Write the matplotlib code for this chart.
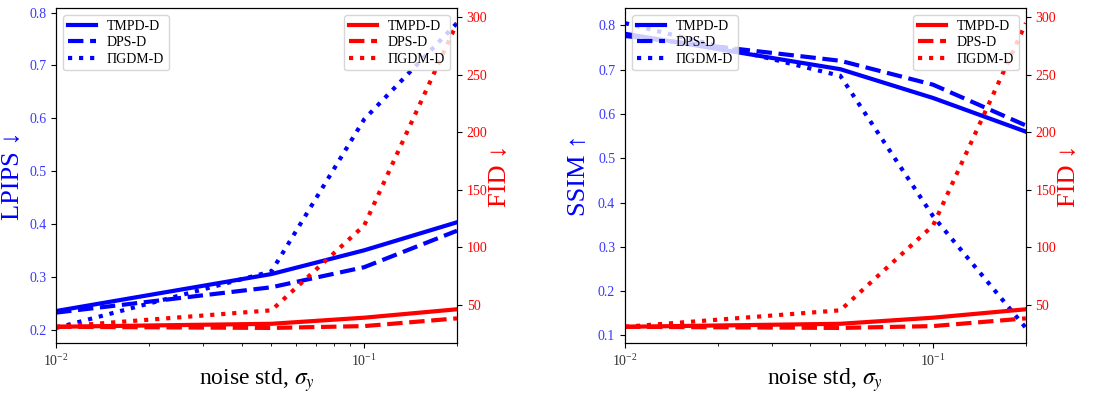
import matplotlib
matplotlib.use('Agg')
import matplotlib.pyplot as plt

# niveles de ruido
sigmas = [0.01, 0.05, 0.1, 0.2]

# LPIPS (panel izquierdo)
lpips_tmpd = [0.235, 0.305, 0.350, 0.403]
lpips_dps = [0.232, 0.280, 0.318, 0.387]
lpips_pigdm = [0.203, 0.310, 0.598, 0.780]

# SSIM (panel derecho)
ssim_tmpd = [0.781, 0.701, 0.636, 0.560]
ssim_dps = [0.776, 0.720, 0.666, 0.574]
ssim_pigdm = [0.805, 0.686, 0.369, 0.117]

# FID (ambos paneles)
fid_tmpd = [31.0, 33.6, 38.9, 46.2]
fid_dps = [31.0, 30.0, 31.6, 38.3]
fid_pigdm = [31.0, 45.3, 119.0, 294.7]

nombres = ['TMPD-D', 'DPS-D', '\u03a0GDM-D']
estilos = ['-', '--', ':']

plt.rcParams['font.family'] = ['Liberation Serif', 'DejaVu Serif']
plt.rcParams['mathtext.fontset'] = 'stix'

fig = plt.figure(figsize=(11.1, 3.94), dpi=100)
ax1 = fig.add_axes([0.0505, 0.129, 0.3612, 0.851])
ax2 = fig.add_axes([0.563, 0.129, 0.3612, 0.851])


def dibujaPanel(ax, metricas, etiqueta, pad):
    for serie, ls, nombre in zip(metricas, estilos, nombres):
        ax.plot(sigmas, serie, color='blue', linestyle=ls, linewidth=3, label=nombre)
    ax.set_xscale('log')
    ax.set_xlim(sigmas[0], sigmas[-1])
    ax.set_ylabel(etiqueta, color='blue', fontsize=19, labelpad=pad)
    ax.tick_params(axis='y', labelcolor='#3838ff', labelsize=10)
    ax.tick_params(axis='x', labelsize=10, labelcolor='#333333')
    ax.set_xlabel(r'noise std, $\sigma_y$', fontsize=17, labelpad=-2)
    ax.legend(loc='upper left', fontsize=10, handlelength=2,
              labelspacing=0.25, borderpad=0.35)

    # eje derecho con el FID
    axr = ax.twinx()
    for serie, ls, nombre in zip([fid_tmpd, fid_dps, fid_pigdm], estilos, nombres):
        axr.plot(sigmas, serie, color='red', linestyle=ls, linewidth=3, label=nombre)
    axr.set_ylabel('FID \u2193', color='red', fontsize=19, labelpad=1)
    axr.tick_params(axis='y', labelcolor='red', labelsize=10)
    axr.set_xlim(sigmas[0], sigmas[-1])
    axr.legend(loc='upper right', fontsize=10, handlelength=2,
               labelspacing=0.25, borderpad=0.35)


dibujaPanel(ax1, [lpips_tmpd, lpips_dps, lpips_pigdm], 'LPIPS \u2193', 4)
dibujaPanel(ax2, [ssim_tmpd, ssim_dps, ssim_pigdm], 'SSIM \u2191', 6)

fig.savefig('out.png', dpi=100)
